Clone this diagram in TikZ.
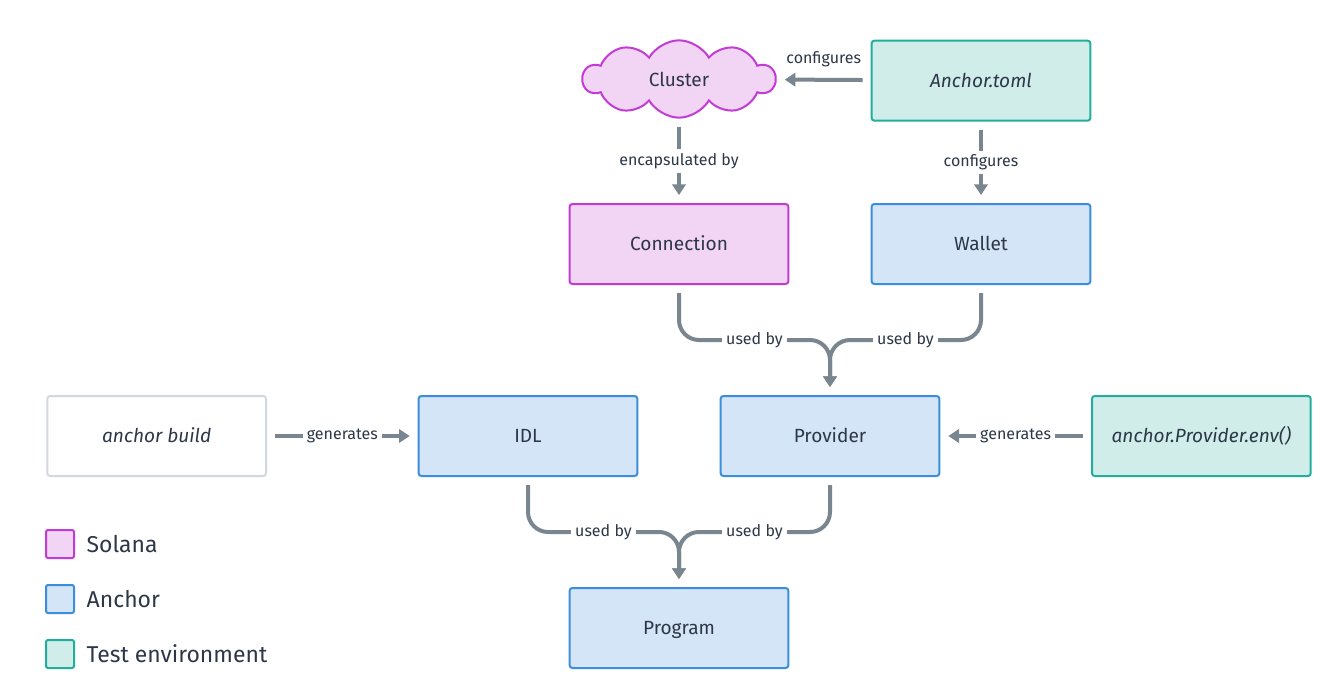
\documentclass[tikz,border=0pt]{standalone}
\usepackage{fontspec}
\setmainfont{Fira Sans}
\usetikzlibrary{arrows.meta,positioning,shapes.symbols}

\definecolor{solfill}{HTML}{F2D4F4}
\definecolor{soldraw}{HTML}{C23BD4}
\definecolor{ancfill}{HTML}{D3E5F6}
\definecolor{ancdraw}{HTML}{3A8EDB}
\definecolor{testfill}{HTML}{D0EDEA}
\definecolor{testdraw}{HTML}{22AE9D}
\definecolor{cmdraw}{HTML}{D3D8DE}
\definecolor{edgegray}{HTML}{79858F}
\definecolor{txt}{HTML}{2D3748}

\begin{document}
\begin{tikzpicture}[x=0.75pt, y=-0.75pt, ->, >={Triangle[length=8pt,width=10pt]},
    node distance=61pt,
    box/.style={rectangle, rounded corners=2pt, line width=1.5pt, minimum width=164pt,
                minimum height=60pt, text=txt, text height=2.2ex, text depth=.35ex,
                font=\fontsize{14.3}{17}\selectfont},
    solanabox/.style={box, draw=soldraw, fill=solfill},
    anchorbox/.style={box, draw=ancdraw, fill=ancfill},
    testbox/.style={box, draw=testdraw, fill=testfill},
    edge/.style={draw=edgegray, line width=3pt, rounded corners=15pt, shorten <=6pt, shorten >=6pt},
    lbl/.style={sharp corners, fill=white, inner sep=3pt, text=txt, font=\fontsize{12}{14}\selectfont},
    keybox/.style={rectangle, rounded corners=1.5pt, line width=1.5pt, minimum size=21pt},
    keytext/.style={anchor=west, text=txt, font=\fontsize{17.2}{20}\selectfont}]
  \useasboundingbox (0,0) rectangle (1340,696);

  % upper part
  \node[solanabox] (connection) at (679,244) {Connection};
  \node[anchorbox] (wallet) [right=of connection] {Wallet};
  \node[testbox]   (toml) [above=of wallet] {\itshape Anchor.toml};
  \node[cloud, cloud puffs=10, cloud puff arc=120, aspect=2.5, draw=soldraw, fill=solfill,
        line width=1.5pt, minimum width=144pt, minimum height=58pt, text=txt,
        font=\fontsize{14.3}{17}\selectfont] (cluster) at (679,79) {Cluster};

  % lower part
  \node[anchorbox] (idl) at (528,436) {IDL};
  \node[anchorbox] (provider) at (830,436) {Provider};
  \node[box, draw=cmdraw, fill=white] (build) [left=113pt of idl] {\itshape anchor build};
  \node[testbox]   (env) [right=113pt of provider] {\itshape anchor.Provider.env()};
  \node[anchorbox] (program) at (679,628) {Program};

  % legend
  \node[keybox, draw=soldraw, fill=solfill] (keysol) at (60,544) {};
  \node[keybox, draw=ancdraw, fill=ancfill] (keyanc) at (60,599) {};
  \node[keybox, draw=testdraw, fill=testfill] (keytest) at (60,654) {};
  \node[keytext] (labsol) at (82,544) {Solana};
  \node[keytext] (labanc) at (82,599) {Anchor};
  \node[keytext] (labtest) at (82,654) {Test environment};

  % connectors
  \coordinate (prow) at (0,340);
  \coordinate (grow) at (0,532);
  \coordinate (pmerge) at (provider.north |- prow);
  \coordinate (gmerge) at (program.north |- grow);

  \draw[edge] (toml) -- node[lbl, fill=none, above=5pt] {configures} (cluster);
  \draw[edge] (cluster) -- node[lbl] {encapsulated by} (connection);
  \draw[edge] (toml) -- node[lbl] {configures} (wallet);
  \draw[edge] (connection.south) |- node[lbl, pos=0.75] {used by} (pmerge) -- (provider.north);
  \draw[edge] (wallet.south) |- node[lbl, pos=0.75] {used by} (pmerge) -- (provider.north);
  \draw[edge] (build) -- node[lbl] {generates} (idl);
  \draw[edge] (env) -- node[lbl] {generates} (provider);
  \draw[edge] (idl.south) |- node[lbl, pos=0.75] {used by} (gmerge) -- (program.north);
  \draw[edge] (provider.south) |- node[lbl, pos=0.75] {used by} (gmerge) -- (program.north);
\end{tikzpicture}
\end{document}
